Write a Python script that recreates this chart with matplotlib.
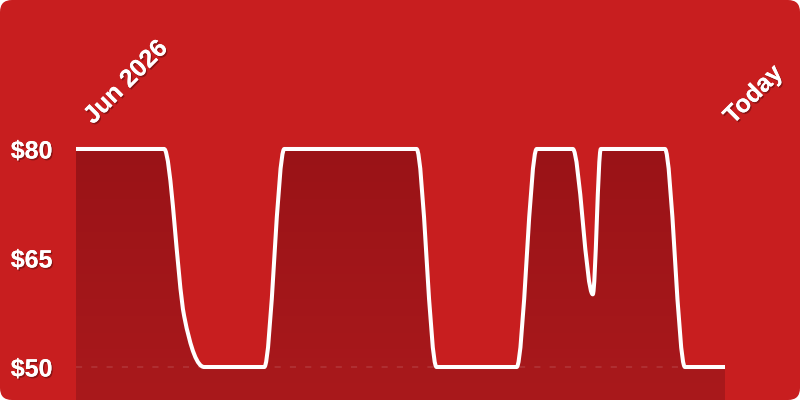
import numpy as np
import matplotlib
matplotlib.use("Agg")
import matplotlib.pyplot as plt
from matplotlib.path import Path
from matplotlib.patches import PathPatch, FancyBboxPatch
import matplotlib.patheffects as pe

# price history (days since start, price in $)
days = [0, 22, 27, 32, 47, 52, 85, 90, 110, 115, 124, 129, 131, 147, 152, 162]
prices = [80, 80, 57, 50, 50, 80, 80, 50, 50, 80, 80, 60, 80, 80, 50, 50]
ytick_vals = [50, 65, 80]
ytick_labels = ["$50", "$65", "$80"]
start_label = "Jun 2026"
end_label = "Today"

bg_red = "#c81e1f"
fill_top = "#9a1317"
fill_bottom = "#a9191c"


def monotone_tangents(x, y):
    # same as d3 curveMonotoneX
    x = np.asarray(x, float)
    y = np.asarray(y, float)
    n = len(x)
    t = np.zeros(n)
    for i in range(1, n - 1):
        h0 = x[i] - x[i - 1]
        h1 = x[i + 1] - x[i]
        s0 = (y[i] - y[i - 1]) / h0
        s1 = (y[i + 1] - y[i]) / h1
        p = (s0 * h1 + s1 * h0) / (h0 + h1)
        t[i] = (np.sign(s0) + np.sign(s1)) * min(abs(s0), abs(s1), 0.5 * abs(p))
    t[0] = (3 * (y[1] - y[0]) / (x[1] - x[0]) - t[1]) / 2
    t[-1] = (3 * (y[-1] - y[-2]) / (x[-1] - x[-2]) - t[-2]) / 2
    return t


def curve_verts(x, y):
    t = monotone_tangents(x, y)
    verts = [(x[0], y[0])]
    codes = [Path.MOVETO]
    for i in range(len(x) - 1):
        dx = (x[i + 1] - x[i]) / 3
        verts += [(x[i] + dx, y[i] + dx * t[i]),
                  (x[i + 1] - dx, y[i + 1] - dx * t[i + 1]),
                  (x[i + 1], y[i + 1])]
        codes += [Path.CURVE4] * 3
    return verts, codes


fig = plt.figure(figsize=(8, 4), dpi=100)
fig.patch.set_facecolor("white")
bg = FancyBboxPatch((0, 0), 1, 1, boxstyle="round,pad=0,rounding_size=0.015",
                    transform=fig.transFigure, facecolor=bg_red,
                    edgecolor="none", mutation_aspect=2, zorder=-10)
fig.patches.append(bg)

ax = fig.add_axes([76 / 800, 0, 649 / 800, 1])
ax.patch.set_alpha(0)
ymin, ymax = 45.46, 100.5

verts, codes = curve_verts(days, prices)
line_path = Path(verts, codes)

fill_verts = verts + [(days[-1], ymin), (days[0], ymin), (days[0], prices[0])]
fill_codes = codes + [Path.LINETO, Path.LINETO, Path.CLOSEPOLY]
fill_patch = PathPatch(Path(fill_verts, fill_codes), facecolor="none", edgecolor="none")
ax.add_patch(fill_patch)

grad = np.linspace(0, 1, 256).reshape(-1, 1)
cmap = matplotlib.colors.LinearSegmentedColormap.from_list("g", [fill_top, fill_bottom])
img = ax.imshow(grad, extent=[days[0], days[-1], ymin, 80], origin="upper",
                cmap=cmap, aspect="auto", zorder=1)
img.set_clip_path(fill_patch)
ax.set_xlim(days[0], days[-1])
ax.set_ylim(ymin, ymax)

ax.axhline(50, color="white", alpha=0.13, lw=1.1, ls=(0, (4, 6)), zorder=2)

ax.add_patch(PathPatch(line_path, facecolor="none", edgecolor="white", lw=2.9,
                       capstyle="round", joinstyle="round", zorder=3))

shadow = [pe.withSimplePatchShadow(offset=(1, -1.2), shadow_rgbFace="black", alpha=0.3),
          pe.Normal()]

ax.set_yticks(ytick_vals)
ax.set_yticklabels(ytick_labels)
ax.tick_params(axis="y", length=0, pad=17, labelsize=18, labelcolor="white")
for lab in ax.get_yticklabels():
    lab.set_fontfamily("Liberation Sans")
    lab.set_fontweight("bold")
    lab.set_path_effects(shadow)
ax.set_xticks([])
for s in ax.spines.values():
    s.set_visible(False)

ax.annotate(start_label, xy=(days[0], prices[0]), xytext=(17, 24), textcoords="offset pixels",
            rotation=45, rotation_mode="anchor", ha="left", va="baseline",
            color="white", fontsize=18, fontweight="bold", family="Liberation Sans",
            path_effects=shadow, annotation_clip=False)
ax.annotate(end_label, xy=(days[-1], prices[-1]), xytext=(8, 242), textcoords="offset pixels",
            rotation=45, rotation_mode="anchor", ha="left", va="baseline",
            color="white", fontsize=18, fontweight="bold", family="Liberation Sans",
            path_effects=shadow, annotation_clip=False)

fig.savefig("out.png", dpi=100, facecolor=fig.get_facecolor())
